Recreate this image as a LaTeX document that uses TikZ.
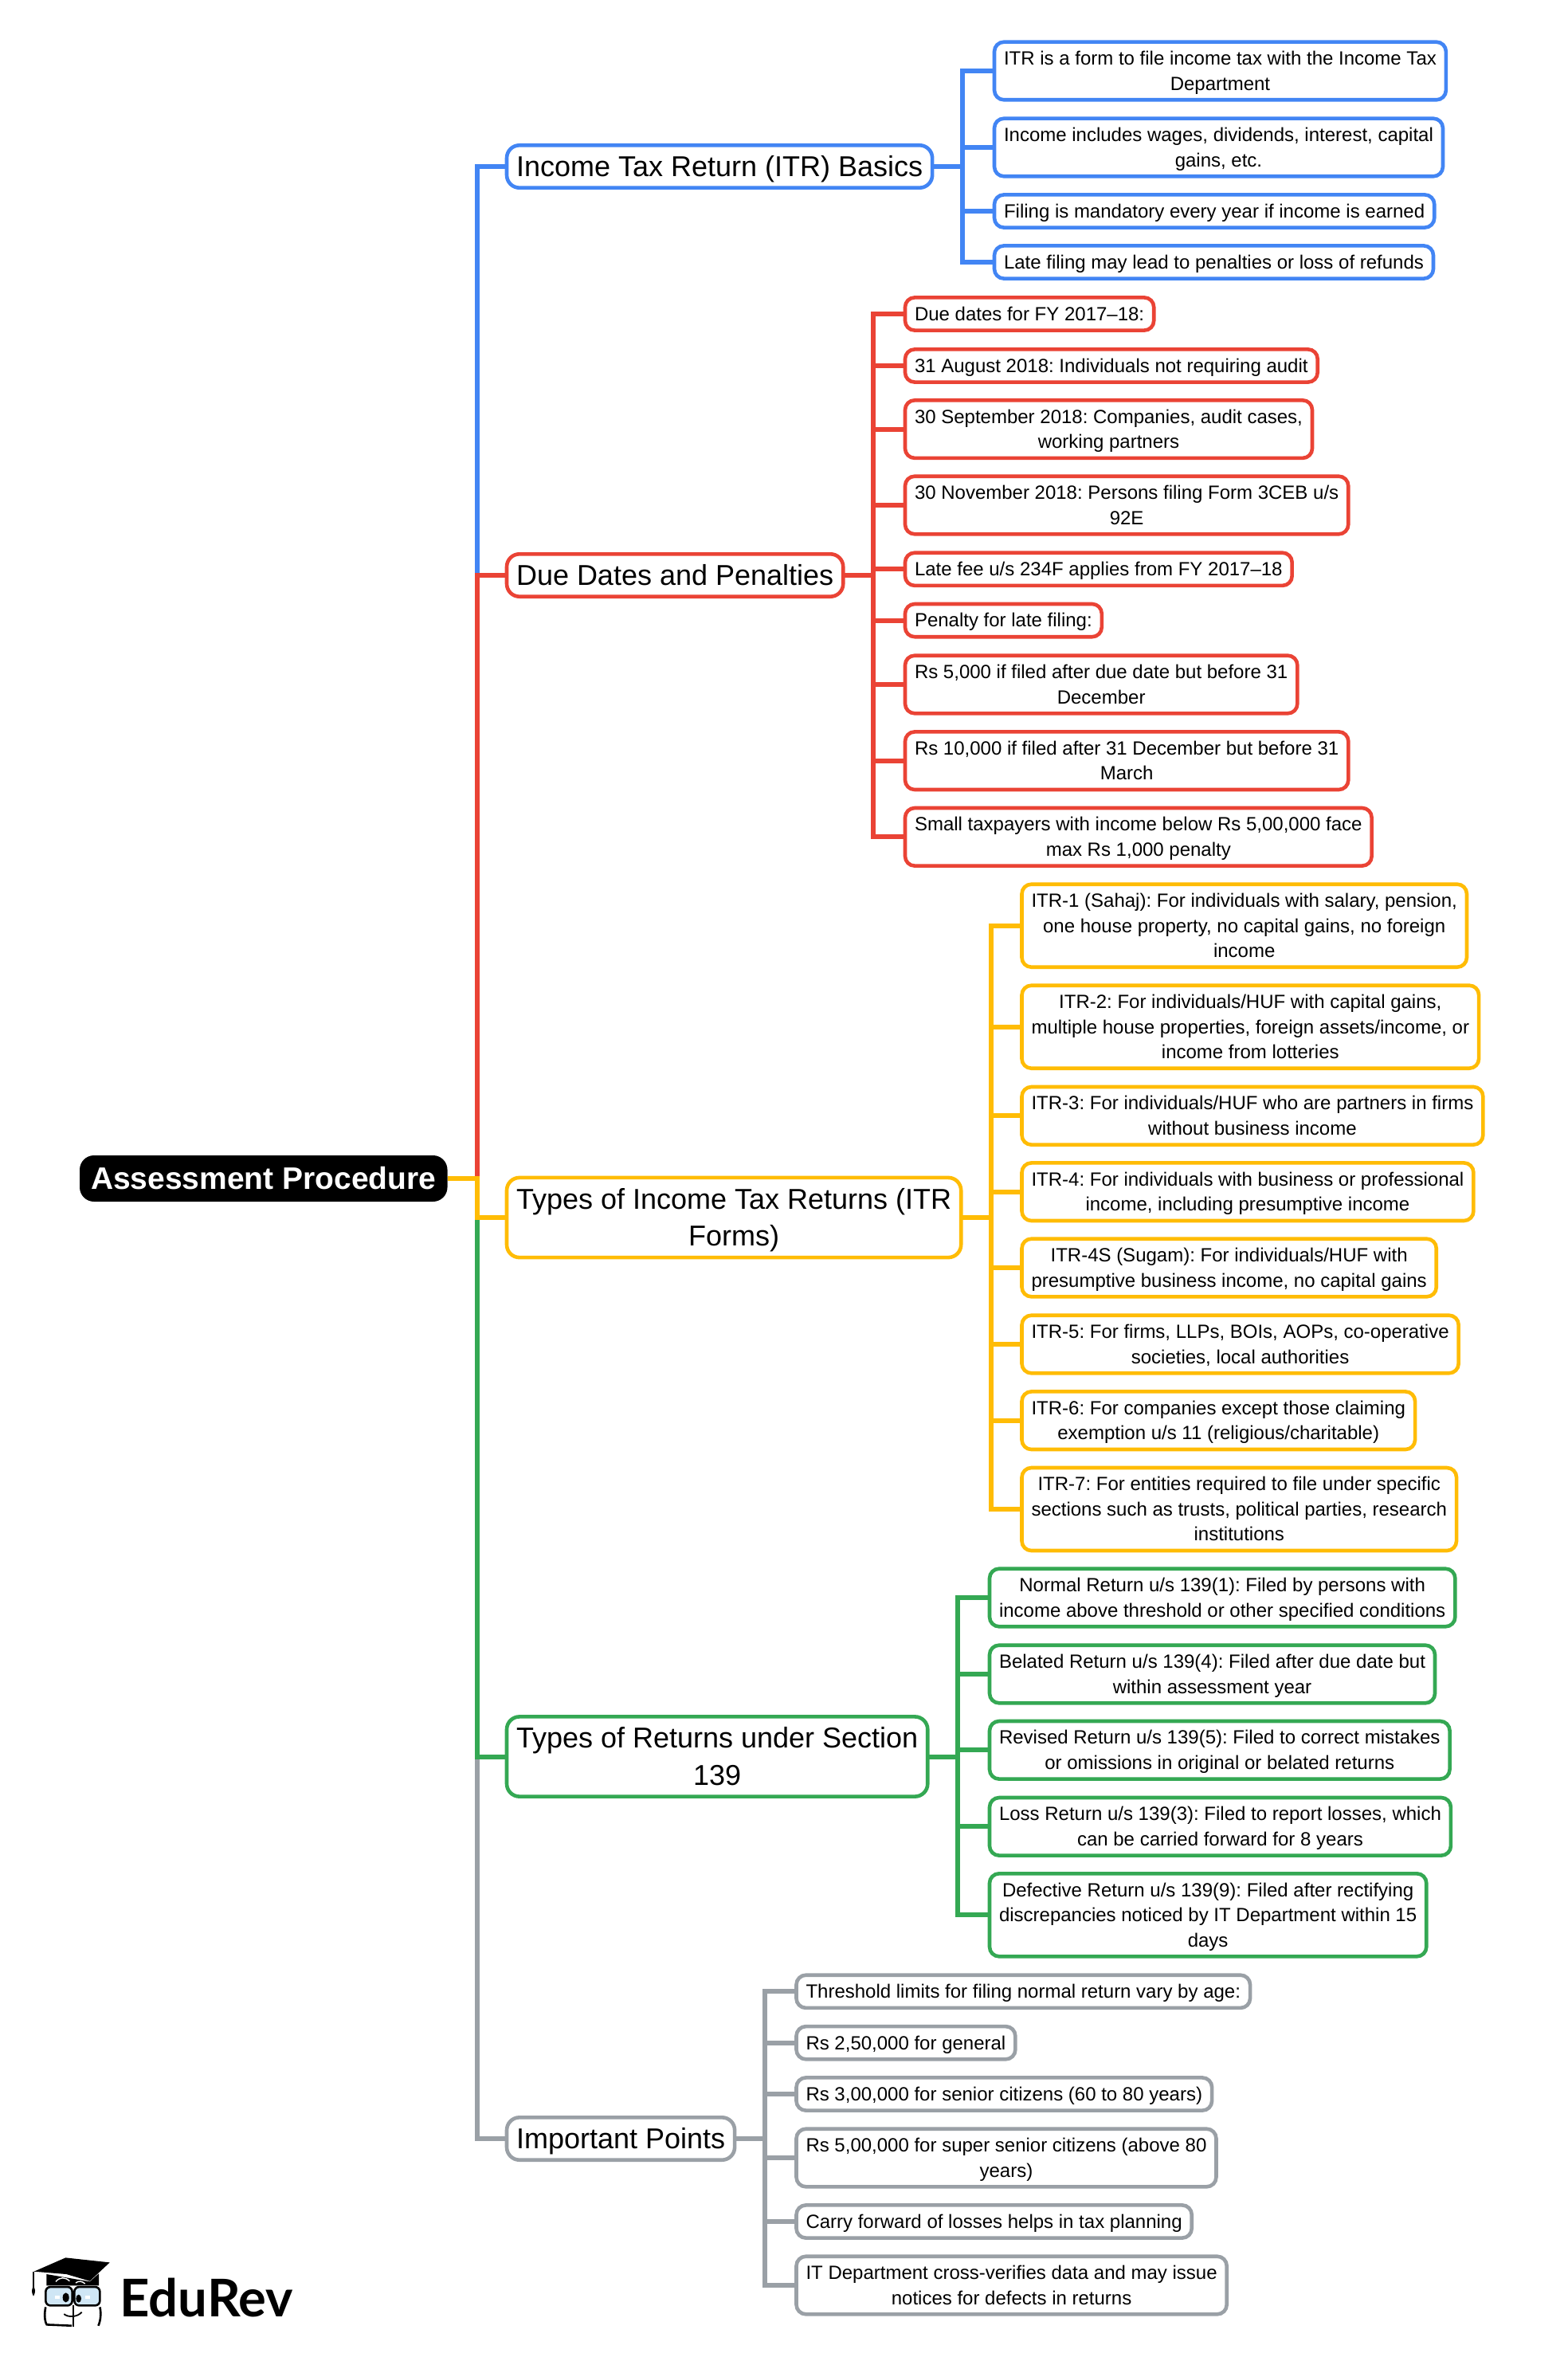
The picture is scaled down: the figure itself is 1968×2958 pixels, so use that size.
\documentclass[tikz,border=0pt]{standalone}
\usepackage{fontspec}
\setmainfont{Liberation Sans}
\newfontfamily\logofont{Lato}
\definecolor{brblue}{HTML}{4285F4}
\definecolor{brred}{HTML}{EA4335}
\definecolor{bryellow}{HTML}{FFBC05}
\definecolor{brgreen}{HTML}{34A853}
\definecolor{brgrey}{HTML}{9AA0A6}
\definecolor{glass}{HTML}{CFE6F5}
\def\rowstrut{\vrule width 0pt height 0.765\baselineskip depth 0.235\baselineskip}
\frenchspacing
\begin{document}
\frenchspacing
\begin{tikzpicture}[x=0.5pt, y=-0.5pt, line join=miter,
	leaf/.style={draw=#1, line width=2.3pt, rounded corners=6pt, fill=white, anchor=west, align=center, outer sep=0pt,
		inner xsep=6pt, inner ysep=2.45pt, font=\fontsize{12}{15.7}\selectfont,
		execute at begin node=\rowstrut, execute at end node=\rowstrut},
	topic/.style={leaf=#1, rounded corners=8pt, inner ysep=1.65pt, font=\fontsize{18}{23.4}\selectfont},
	edge/.style={draw=#1, line width=3pt}]
	\useasboundingbox (0,0) rectangle (1968,2958);
	\node[fill=black, text=white, rounded corners=9pt, minimum height=29pt, inner xsep=7pt, inner ysep=0pt, anchor=west, outer sep=0pt,
		font=\fontsize{19.5}{23.4}\selectfont\bfseries] (root) at (100,1479) {Assessment Procedure};
	% topics
	\node[topic=brblue] (basics) at (636,209) {Income Tax Return (ITR) Basics};
	\node[topic=brred] (dates) at (636,722) {Due Dates and Penalties};
	\node[topic=bryellow] (forms) at (636,1528) {\rowstrut Types of Income Tax Returns (ITR\\Forms)};
	\node[topic=brgreen] (returns) at (636,2204.5) {\rowstrut Types of Returns under Section\\139};
	\node[topic=brgrey] (points) at (636,2684) {Important Points};
	% basics
	\node[leaf=brblue] (b1) at (1248,89) {\rowstrut ITR is a form to file income tax with the Income Tax\\Department};
	\node[leaf=brblue] (b2) at (1248,185) {\rowstrut Income includes wages, dividends, interest, capital\\gains, etc.};
	\node[leaf=brblue] (b3) at (1248,265) {Filing is mandatory every year if income is earned};
	\node[leaf=brblue] (b4) at (1248,329) {Late filing may lead to penalties or loss of refunds};
	% due dates
	\node[leaf=brred] (d1) at (1136,394) {Due dates for FY 2017--18:};
	\node[leaf=brred] (d2) at (1136,459) {31 August 2018: Individuals not requiring audit};
	\node[leaf=brred] (d3) at (1136,538.6) {\rowstrut 30 September 2018: Companies, audit cases,\\working partners};
	\node[leaf=brred] (d4) at (1136,634) {\rowstrut 30 November 2018: Persons filing Form 3CEB u/s\\92E};
	\node[leaf=brred] (d5) at (1136,714.3) {Late fee u/s 234F applies from FY 2017--18};
	\node[leaf=brred] (d6) at (1136,778.6) {Penalty for late filing:};
	\node[leaf=brred] (d7) at (1136,859) {\rowstrut Rs 5,000 if filed after due date but before 31\\December};
	\node[leaf=brred] (d8) at (1136,954.7) {\rowstrut Rs 10,000 if filed after 31 December but before 31\\March};
	\node[leaf=brred] (d9) at (1136,1050.3) {\rowstrut Small taxpayers with income below Rs 5,00,000 face\\max Rs 1,000 penalty};
	% itr forms
	\node[leaf=bryellow] (f1) at (1282.5,1161.7) {\rowstrut ITR-1 (Sahaj): For individuals with salary, pension,\\one house property, no capital gains, no foreign\\income};
	\node[leaf=bryellow] (f2) at (1282.5,1288.7) {\rowstrut ITR-2: For individuals/HUF with capital gains,\\multiple house properties, foreign assets/income, or\\income from lotteries};
	\node[leaf=bryellow] (f3) at (1282.5,1400.3) {\rowstrut ITR-3: For individuals/HUF who are partners in firms\\without business income};
	\node[leaf=bryellow] (f4) at (1282.5,1495.7) {\rowstrut ITR-4: For individuals with business or professional\\income, including presumptive income};
	\node[leaf=bryellow] (f5) at (1282.5,1591) {\rowstrut ITR-4S (Sugam): For individuals/HUF with\\presumptive business income, no capital gains};
	\node[leaf=bryellow] (f6) at (1282.5,1687) {\rowstrut ITR-5: For firms, LLPs, BOIs, AOPs, co-operative\\societies, local authorities};
	\node[leaf=bryellow] (f7) at (1282.5,1782.7) {\rowstrut ITR-6: For companies except those claiming\\exemption u/s 11 (religious/charitable)};
	\node[leaf=bryellow] (f8) at (1282.5,1894) {\rowstrut ITR-7: For entities required to file under specific\\sections such as trusts, political parties, research\\institutions};
	% section 139
	\node[leaf=brgreen] (r1) at (1242,2005) {\rowstrut Normal Return u/s 139(1): Filed by persons with\\income above threshold or other specified conditions};
	\node[leaf=brgreen] (r2) at (1242,2101) {\rowstrut Belated Return u/s 139(4): Filed after due date but\\within assessment year};
	\node[leaf=brgreen] (r3) at (1242,2196.3) {\rowstrut Revised Return u/s 139(5): Filed to correct mistakes\\or omissions in original or belated returns};
	\node[leaf=brgreen] (r4) at (1242,2292.3) {\rowstrut Loss Return u/s 139(3): Filed to report losses, which\\can be carried forward for 8 years};
	\node[leaf=brgreen] (r5) at (1242,2403.3) {\rowstrut Defective Return u/s 139(9): Filed after rectifying\\discrepancies noticed by IT Department within 15\\days};
	% important points
	\node[leaf=brgrey] (p1) at (999.5,2499.3) {Threshold limits for filing normal return vary by age:};
	\node[leaf=brgrey] (p2) at (999.5,2563.7) {Rs 2,50,000 for general};
	\node[leaf=brgrey] (p3) at (999.5,2628) {Rs 3,00,000 for senior citizens (60 to 80 years)};
	\node[leaf=brgrey] (p4) at (999.5,2708) {\rowstrut Rs 5,00,000 for super senior citizens (above 80\\years)};
	\node[leaf=brgrey] (p5) at (999.5,2788) {Carry forward of losses helps in tax planning};
	\node[leaf=brgrey] (p6) at (999.5,2868) {\rowstrut IT Department cross-verifies data and may issue\\notices for defects in returns};
	% connectors
	\draw[edge=brblue] (root.east) -- ++(37,0) |- (basics.west);
	\draw[edge=brred] (root.east) -- ++(37,0) |- (dates.west);
	\draw[edge=brgrey] (root.east) -- ++(37,0) |- (points.west);
	\draw[edge=brgreen] (root.east) -- ++(37,0) |- (returns.west);
	\draw[edge=bryellow] (root.east) -- ++(37,0) |- (forms.west);
	\foreach \kid in {b1,b2,b3,b4} \draw[edge=brblue] (basics.east) -- ++(38,0) |- (\kid.west);
	\foreach \kid in {d1,d2,d3,d4,d5,d6,d7,d8,d9} \draw[edge=brred] (dates.east) -- ++(38,0) |- (\kid.west);
	\foreach \kid in {f1,f2,f3,f4,f5,f6,f7,f8} \draw[edge=bryellow] (forms.east) -- ++(38,0) |- (\kid.west);
	\foreach \kid in {r1,r2,r3,r4,r5} \draw[edge=brgreen] (returns.east) -- ++(38,0) |- (\kid.west);
	\foreach \kid in {p1,p2,p3,p4,p5,p6} \draw[edge=brgrey] (points.east) -- ++(38,0) |- (\kid.west);
	% logo
	\node[font=\fontsize{32.6}{36}\logofont\bfseries, anchor=base west, inner sep=0pt] (logo) at (150,2907) {EduRev};
	\begin{scope}[shift={(0,2780)}, x=0.1667pt, y=-0.1667pt]
		\fill[black] (128,212) -- (247,160) -- (413,178) -- (338,248) -- (250,222) -- cycle;
		\fill[black] (175,222) -- (338,250) -- (372,220) -- (372,265) -- (175,265) -- cycle;
		\draw[white, line width=0.7pt] (210,250) .. controls (225,232) and (245,232) .. (262,248);
		\draw[white, line width=0.7pt] (285,255) .. controls (295,246) and (310,248) .. (320,258);
		\draw[black, line width=0.7pt] (126,212) -- (126,272);
		\fill[black] (126,266) .. controls (120,280) and (116,285) .. (126,305) .. controls (136,285) and (132,280) .. (126,266) -- cycle;
		\draw[black, line width=1.3pt, fill=glass, rounded corners=3pt] (172,270) rectangle (272,340);
		\draw[black, line width=1.3pt, fill=glass, rounded corners=3pt] (280,270) rectangle (376,340);
		\fill[black] (248,310) ellipse (12 and 18);
		\fill[black] (296,314) ellipse (10 and 15);
		\fill[white] (208,302) rectangle (224,316);
		\fill[white] (322,302) rectangle (338,316);
		\draw[black, line width=1.3pt] (172,346) .. controls (166,370) and (168,400) .. (176,412) -- (270,416);
		\draw[black, line width=1.3pt] (376,346) .. controls (382,370) and (378,400) .. (370,416);
		\draw[black, line width=1.3pt] (276,340) -- (276,420);
		\draw[black, line width=0.9pt] (241,372) .. controls (255,385) and (290,385) .. (308,365);
	\end{scope}
\end{tikzpicture}
\end{document}
